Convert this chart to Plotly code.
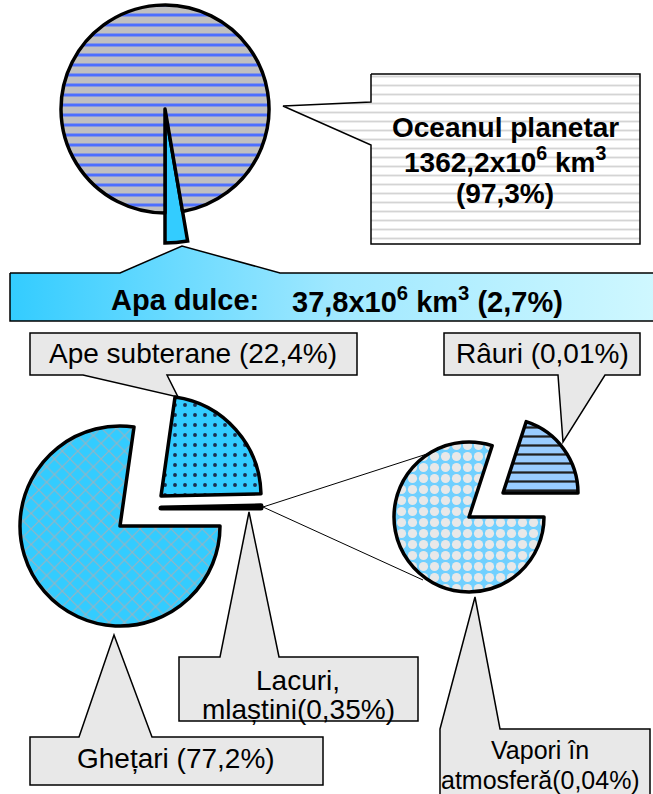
import math

import plotly.graph_objects as go

W, H = 653, 794

# world water: ocean vs fresh water (%)
ocean_labels = ["Oceanul planetar", "Apa dulce"]
ocean_values = [97.3, 2.7]

# fresh water split (%)
fresh_labels = ["Ghețari", "Ape subterane", "Lacuri, mlaștini"]
fresh_values = [77.2, 22.4, 0.35]

# small pie (%)
small_labels = ["Vapori în atmosferă", "Râuri"]
small_values = [0.04, 0.01]

CLEAR = "rgba(0,0,0,0)"
SANS = "Liberation Sans, Arial, sans-serif"


def dom(cx, cy, r):
    return dict(x=[(cx - r) / W, (cx + r) / W], y=[1 - (cy + r) / H, 1 - (cy - r) / H])


def pie(labels, values, cx, cy, r, show, color, shape, fg, size, solid, rotation, lw=None):
    n = len(values)
    lw = lw or [3.5] * n
    col = [color[i] if show[i] else CLEAR for i in range(n)]
    return go.Pie(
        labels=labels, values=values, sort=False, direction="clockwise",
        rotation=rotation, domain=dom(cx, cy, r), textinfo="none",
        hoverinfo="label+percent", showlegend=False,
        marker=dict(
            colors=col,
            line=dict(color="black", width=[lw[i] if show[i] else 0 for i in range(n)]),
            pattern=dict(
                shape=[shape[i] if show[i] else "" for i in range(n)],
                fgcolor=[fg[i] if show[i] else CLEAR for i in range(n)],
                bgcolor=col,
                size=size, solidity=solid, fillmode="replace",
            ),
        ),
    )


fig = go.Figure()

# grey callouts (pixel paths)
callouts = [
    [(30, 333), (357, 333), (357, 375), (167, 375), (178, 397), (83, 375), (30, 375)],
    [(444, 333), (640, 333), (640, 375), (605, 375), (563, 442), (558, 375), (444, 375)],
    [(179, 657), (220, 657), (249, 512), (279, 657), (418, 657), (418, 721), (179, 721)],
    [(30, 737), (79, 737), (114, 635), (152, 737), (323, 737), (323, 785), (30, 785)],
    [(440, 729), (475, 597), (500, 729), (650, 729), (650, 800), (440, 800)],
]
shapes = []
for pts in callouts:
    path = "M " + " L ".join(f"{x},{y}" for x, y in pts) + " Z"
    shapes.append(dict(type="path", path=path, xref="x", yref="y", layer="below",
                       fillcolor="#e8e8e8", line=dict(color="black", width=1.5)))
# lines linking the lakes slice to the small pie
for end in [(430, 453), (423, 580)]:
    shapes.append(dict(type="line", x0=263, y0=507, x1=end[0], y1=end[1], xref="x", yref="y",
                       layer="below", line=dict(color="black", width=1)))

# ocean callout with wavy fill
oc = [(371, 74), (640, 74), (640, 244), (371, 244), (371, 145), (283, 106), (371, 102), (371, 74)]
fig.add_trace(go.Scatter(
    x=[p[0] for p in oc], y=[p[1] for p in oc], mode="lines", fill="toself",
    fillcolor="white", line=dict(color="black", width=1.5), hoverinfo="skip", showlegend=False,
    fillpattern=dict(shape="-", fgcolor="#d4d4d4", bgcolor="white", size=9, solidity=0.2)))

# fresh water banner with gradient
bn = [(10, 273), (120, 273), (182, 246), (280, 273), (662, 273), (662, 321), (10, 321), (10, 273)]
fig.add_trace(go.Scatter(
    x=[p[0] for p in bn], y=[p[1] for p in bn], mode="lines", fill="toself",
    line=dict(color="black", width=1.5), hoverinfo="skip", showlegend=False,
    fillgradient=dict(type="horizontal",
                      colorscale=[[0, "#33ccff"], [0.5, "#a0e8ff"], [1, "#d0f8ff"]])))

# fresh water sliver as a polar bar, long from the ocean centre
ox, oy, orad = 165, 109, 104
sliver_len = 134
sl_deg = ocean_values[1] / sum(ocean_values) * 360
a_end = 180.0
a_start = a_end - sl_deg
s0, s1 = 90 - a_end - 2, 90 - a_start + 2
s0, s1 = s0 % 360, (s0 % 360) + (s1 - s0)
bx0 = min(math.cos(math.radians(s0)), math.cos(math.radians(s1)))
bx1 = max(math.cos(math.radians(s0)), math.cos(math.radians(s1)))
pr = sliver_len * 1.03
fig.add_trace(go.Barpolar(
    r=[1], theta=[(a_start + a_end) / 2], width=[sl_deg], subplot="polar",
    marker=dict(color="#33ccff", line=dict(color="black", width=3.5)),
    name=ocean_labels[1], showlegend=False))

# top pie
fig.add_trace(pie(ocean_labels, ocean_values, ox, oy, orad, [True, False],
                  ["#c0c0c0", "#33ccff"], ["-", ""], ["#4d6fff", "#33ccff"], 10, 0.3, 180))

# fresh water pie: main body, ground water and lakes exploded
fx, fy, fr = 120, 526, 100
f_color = ["#33ccff", "#33ccff", "black"]
f_shape = ["x", ".", ""]
f_fg = ["#98b2c0", "#1a3050", "black"]
f_size = [11, 10, 8]
f_solid = [0.2, 0.12, 0.2]
f_lw = [3.5, 3.5, 5]
fig.add_trace(pie(fresh_labels, fresh_values, fx, fy, fr, [True, False, False],
                  f_color, f_shape, f_fg, f_size, f_solid, 90, f_lw))
fig.add_trace(pie(fresh_labels, fresh_values, 161, 496, fr, [False, True, False],
                  f_color, f_shape, f_fg, f_size, f_solid, 90, f_lw))
fig.add_trace(pie(fresh_labels, fresh_values, 161, 508, fr, [False, False, True],
                  f_color, f_shape, f_fg, f_size, f_solid, 90, f_lw))

# small pie: vapour body, rivers exploded
sx, sy, sr = 469, 517, 75
s_color = ["#70d0ff", "#99ccff"]
s_shape = [".", "-"]
s_fg = ["#e8e8e8", "#202020"]
fig.add_trace(pie(small_labels, small_values, sx, sy, sr, [True, False],
                  s_color, s_shape, s_fg, [11, 9], [0.55, 0.25], 90))
fig.add_trace(pie(small_labels, small_values, 503, 493, sr, [False, True],
                  s_color, s_shape, s_fg, [11, 9], [0.55, 0.25], 90))

ann = []


def txt(x, y, s, size, xanchor="center"):
    ann.append(dict(x=x, y=y, xref="x", yref="y", text=s, showarrow=False, xanchor=xanchor,
                    yanchor="middle", font=dict(family=SANS, size=size, color="black")))


txt(505, 127, "<b>Oceanul planetar</b>", 28)
txt(505, 160, "<b>1362,2x10<sup>6</sup> km<sup>3</sup></b>", 28)
txt(505, 193, "<b>(97,3%)</b>", 28)
txt(109, 300, "<b>Apa dulce:</b>", 29, "left")
txt(290, 300, "<b>37,8x10<sup>6</sup> km<sup>3</sup> (2,7%)</b>", 29, "left")
txt(193, 353, "Ape subterane (22,4%)", 28)
txt(542, 353, "Râuri (0,01%)", 28)
txt(298, 680, "Lacuri,", 28)
txt(298, 709, "mlaștini(0,35%)", 28)
txt(176, 758, "Ghețari (77,2%)", 28)
txt(540, 750, "Vapori în", 25)
txt(540, 780, "atmosferă(0,04%)", 25)

fig.update_layout(
    width=W, height=H, autosize=False, margin=dict(l=0, r=0, t=0, b=0),
    paper_bgcolor="white", plot_bgcolor="white", template="none",
    xaxis=dict(range=[0, W], visible=False, fixedrange=True, domain=[0, 1]),
    yaxis=dict(range=[H, 0], visible=False, fixedrange=True, domain=[0, 1]),
    polar=dict(
        domain=dict(x=[(ox + bx0 * pr) / W, (ox + bx1 * pr) / W],
                    y=[1 - (oy + pr) / H, 1 - oy / H]),
        sector=[s0, s1], bgcolor=CLEAR,
        angularaxis=dict(visible=False, rotation=90, direction="clockwise"),
        radialaxis=dict(visible=False, range=[0, 1.03]),
    ),
    shapes=shapes, annotations=ann, showlegend=False,
)

fig.write_html("out.html", config={"displayModeBar": False},
               post_script="document.body.style.margin='0px';")
